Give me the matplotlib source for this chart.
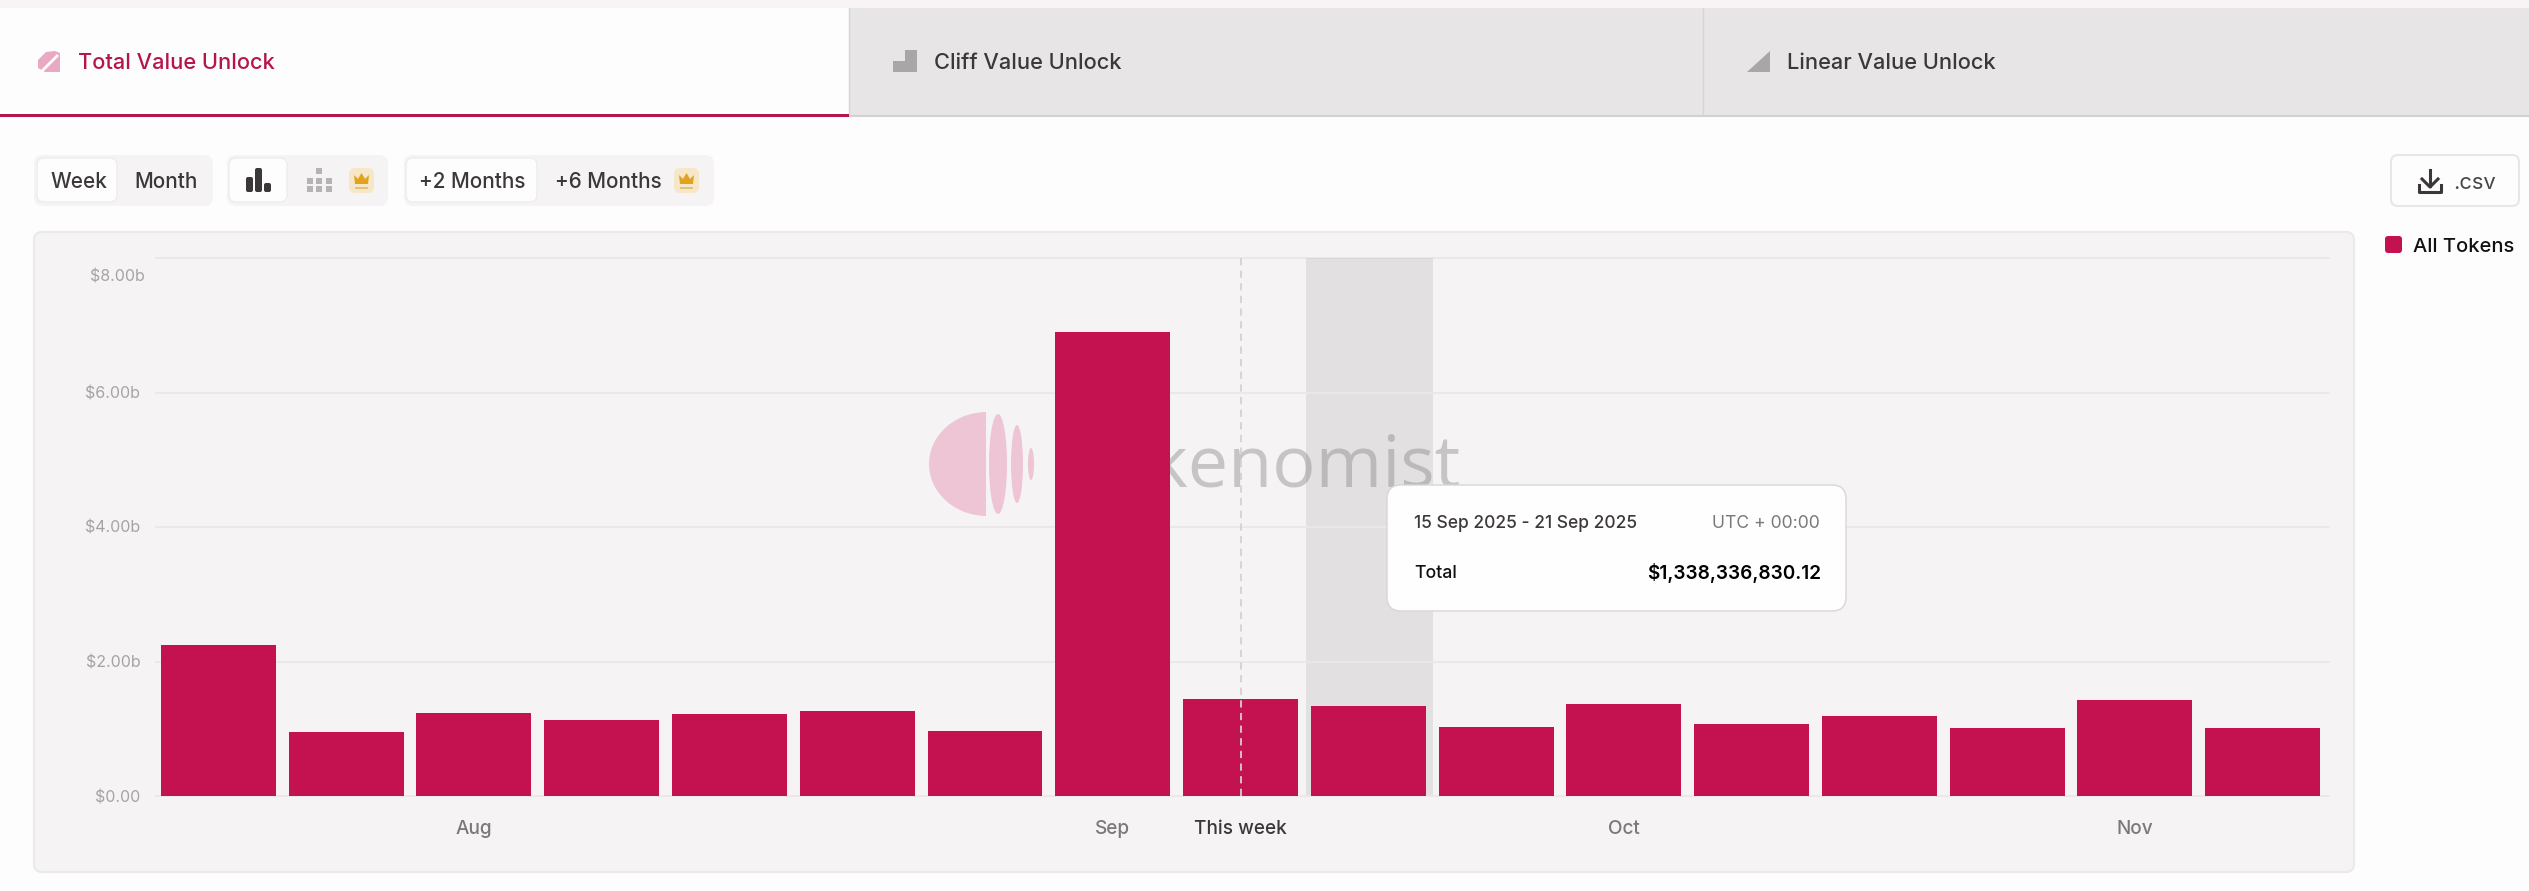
import matplotlib
matplotlib.use("Agg")
import matplotlib.pyplot as plt
from matplotlib.patches import FancyBboxPatch, Rectangle, Ellipse, Polygon

W, H = 2529, 891
FONT = ["Inter", "DejaVu Sans"]
CRIMSON = "#c41150"

# weekly unlock value in $ billions
values = [2.252, 0.956, 1.228, 1.134, 1.213, 1.262, 0.965, 6.895, 1.436, 1.338, 1.02,
          1.366, 1.065, 1.183, 1.015, 1.421, 1.01]
y_ticks = [0, 2, 4, 6, 8]
y_labels = ["$0.00", "$2.00b", "$4.00b", "$6.00b", "$8.00b"]
x_ticks = [2, 7, 8, 11, 15]
x_labels = ["Aug", "Sep", "This week", "Oct", "Nov"]
this_week = 8
hovered = 9
tabs = ["Total Value Unlock", "Cliff Value Unlock", "Linear Value Unlock"]
tip_dates = "15 Sep 2025 - 21 Sep 2025"
tip_zone = "UTC + 00:00"
tip_total = "$1,338,336,830.12"


def pt(px):
    return px * 72 / 100


def box(ax, x0, y0, x1, y1, r=8, fc="white", ec="none", lw=1.5, z=1):
    ax.add_patch(FancyBboxPatch((x0, y0), x1 - x0, y1 - y0,
                                boxstyle=f"round,pad=0,rounding_size={r}",
                                fc=fc, ec=ec, lw=lw, zorder=z))


def label(ax, x, y, s, size=21, color="#3c383a", ha="left", weight="medium", z=5):
    ax.text(x, y, s, fontsize=pt(size), color=color, ha=ha, va="center_baseline",
            family=FONT, weight=weight, zorder=z)


def crown(ax, x0, y0):
    box(ax, x0, y0, x0 + 25, y0 + 25, r=6, fc="#f6e7c8", z=3)
    ax.add_patch(Polygon([(x0 + 5, y0 + 7), (x0 + 9, y0 + 11), (x0 + 12.5, y0 + 5),
                          (x0 + 16, y0 + 11), (x0 + 20, y0 + 7), (x0 + 19, y0 + 16),
                          (x0 + 6, y0 + 16)], fc="#e2a21e", ec="none", zorder=4))
    ax.add_patch(Rectangle((x0 + 6, y0 + 18.5), 13, 2, fc="#e2c27a", ec="none", zorder=4))


fig = plt.figure(figsize=(W / 100, H / 100), dpi=100, facecolor="#fdfdfd")

# page chrome in pixel coordinates
ui = fig.add_axes([0, 0, 1, 1], zorder=0)
ui.set_xlim(0, W)
ui.set_ylim(H, 0)
ui.axis("off")

ui.add_patch(Rectangle((0, 0), W, 8, fc="#f8f4f5", ec="none"))
ui.add_patch(Rectangle((849, 8), 1680, 107, fc="#e7e5e6", ec="none"))
ui.plot([1703, 1703], [8, 115], color="#d6d4d5", lw=1)
ui.plot([849, 849], [8, 115], color="#d6d4d5", lw=1)
ui.plot([849, W], [115.5, 115.5], color="#d2d0d1", lw=1.5)
ui.add_patch(Rectangle((0, 114), 849, 3, fc="#b5154f", ec="none", zorder=3))

label(ui, 78, 61, tabs[0], size=21.8, color="#b5154f")
label(ui, 934, 61, tabs[1], size=21.8, color="#3c383a")
label(ui, 1787, 61, tabs[2], size=21.8, color="#3c383a")

# tab icons
ui.add_patch(Polygon([(46, 52), (55, 51), (60, 53), (60, 72), (45, 72), (38, 68), (38, 60)],
                     fc="#eaa9c3", ec="none"))
ui.plot([42, 57], [71, 56], color="white", lw=2, zorder=2)
ui.add_patch(Polygon([(893, 72), (893, 61), (905, 61), (905, 50), (917, 50), (917, 72)],
                     fc="#a8a6a7", ec="none"))
ui.add_patch(Polygon([(1747, 72), (1770, 51), (1770, 72)], fc="#a8a6a7", ec="none"))

# control groups
for x0, x1 in [(34, 213), (227, 388), (404, 714)]:
    box(ui, x0, 155, x1, 206, r=9, fc="#f5f3f4")
for x0, x1 in [(37, 117), (229, 287), (406, 537)]:
    box(ui, x0, 158, x1, 202, r=7, fc="#fdfdfd", ec="#eeecec", lw=1, z=2)
label(ui, 50, 180, "Week", size=20.7)
label(ui, 134, 180, "Month", size=20.7)
label(ui, 419, 180, "+2 Months", size=20.7)
label(ui, 555, 180, "+6 Months", size=20.7)
for x, top, col in [(246, 177, "#3c383a"), (255, 168, "#3c383a"), (264, 183, "#3c383a")]:
    box(ui, x, top, x + 7, 192, r=2, fc=col, z=3)
for x, tops in [(307, (178, 186)), (316, (168, 178, 186)), (326, (178, 186))]:
    for top in tops:
        ui.add_patch(Rectangle((x, top), 6, 6, fc="#b5b3b4", ec="none", zorder=3))
crown(ui, 349, 168)
crown(ui, 674, 168)

# csv button and legend
box(ui, 2391, 155, 2519, 206, r=7, fc="#fdfdfd", ec="#e8e6e7")
ui.plot([2430, 2430], [170, 186], color="#3c383a", lw=2.2, zorder=3)
ui.plot([2422, 2430, 2438], [179, 187, 179], color="#3c383a", lw=2.2, zorder=3)
ui.plot([2419, 2419, 2441, 2441], [185, 192, 192, 185], color="#3c383a", lw=2.2, zorder=3)
label(ui, 2453, 181, ".csv", size=22, color="#4a4648", weight="normal")
box(ui, 2385, 236, 2402, 253, r=3, fc=CRIMSON)
label(ui, 2413, 245, "All Tokens", size=20.1, color="#111111")

# chart panel and watermark
box(ui, 34, 232, 2354, 872, r=8, fc="#f5f3f4", ec="#ebe9ea")
disc = Ellipse((987, 464), 116, 104, fc="#eec5d5", ec="none", zorder=2)
ui.add_patch(disc)
disc.set_clip_path(Rectangle((925, 408), 61, 112, transform=ui.transData))
ui.add_patch(Ellipse((998, 464), 18, 100, fc="#eec5d5", ec="none", zorder=2))
ui.add_patch(Ellipse((1017, 464), 12, 78, fc="#eec5d5", ec="none", zorder=2))
ui.add_patch(Ellipse((1031, 464), 6, 32, fc="#eec5d5", ec="none", zorder=2))
ui.text(1461, 487, "Tokenomist", fontsize=pt(72), color="#c6c4c5", ha="right", va="baseline",
        family=["Open Sans", "DejaVu Sans"], zorder=2)

# the bars themselves
left, right, top, bottom = 155.6, 2329, 258, 796
ax = fig.add_axes([left / W, 1 - bottom / H, (right - left) / W, (bottom - top) / H], zorder=1)
ax.patch.set_alpha(0)
ax.bar(range(len(values)), values, width=0.9, color=CRIMSON, zorder=3)
ax.axvspan(hovered - 0.49, hovered + 0.51, color="#8a8889", alpha=0.17, lw=0, zorder=1)
ax.axvline(this_week, color="#d3d1d2", lw=1.3, ls=(0, (4, 3)), zorder=4)
ax.set_xlim(-0.492, 16.52)
ax.set_ylim(0, 8)
ax.set_yticks(y_ticks[:-1], y_labels[:-1])
ax.set_xticks(x_ticks, x_labels)
ax.grid(axis="y", color="#e9e7e8", lw=1.3, zorder=0)
ax.grid(axis="x", visible=False)
for g in ax.get_ygridlines():
    g.set_clip_on(False)
ax.axhline(y_ticks[-1], color="#e9e7e8", lw=1.3, zorder=0, clip_on=False)
ax.tick_params(length=0)
ax.tick_params(axis="y", pad=11, labelsize=pt(16), labelcolor="#a5a3a4")
ax.tick_params(axis="x", pad=17, labelsize=pt(19), labelcolor="#7c787a")
for t in ax.get_xticklabels() + ax.get_yticklabels():
    t.set_family(FONT)
for t in ax.get_xticklabels():
    t.set_weight("medium")
ax.get_xticklabels()[x_labels.index("This week")].set_color("#3c383a")
for s in ax.spines.values():
    s.set_visible(False)
# top label sits under its gridline in the original
ax.annotate(y_labels[-1], (0, y_ticks[-1]), xycoords=ax.get_yaxis_transform(),
            xytext=(-11, -19), textcoords="offset pixels", ha="right", va="center",
            fontsize=pt(16), color="#a5a3a4", family=FONT)

# tooltip above everything
over = fig.add_axes([0, 0, 1, 1], zorder=2)
over.set_xlim(0, W)
over.set_ylim(H, 0)
over.axis("off")
box(over, 1387, 485, 1846, 611, r=14, fc="#fefefe", ec="#d8d6d7", lw=1)
label(over, 1414, 522, tip_dates, size=17.4, color="#3c383a")
label(over, 1820, 522, tip_zone, size=17.6, color="#7c787a", ha="right", weight="normal")
label(over, 1414, 572, "Total", size=17.6, color="#111111")
label(over, 1821, 571, tip_total, size=19, color="#000000", ha="right", weight="semibold")

fig.savefig("out.png", dpi=100)
